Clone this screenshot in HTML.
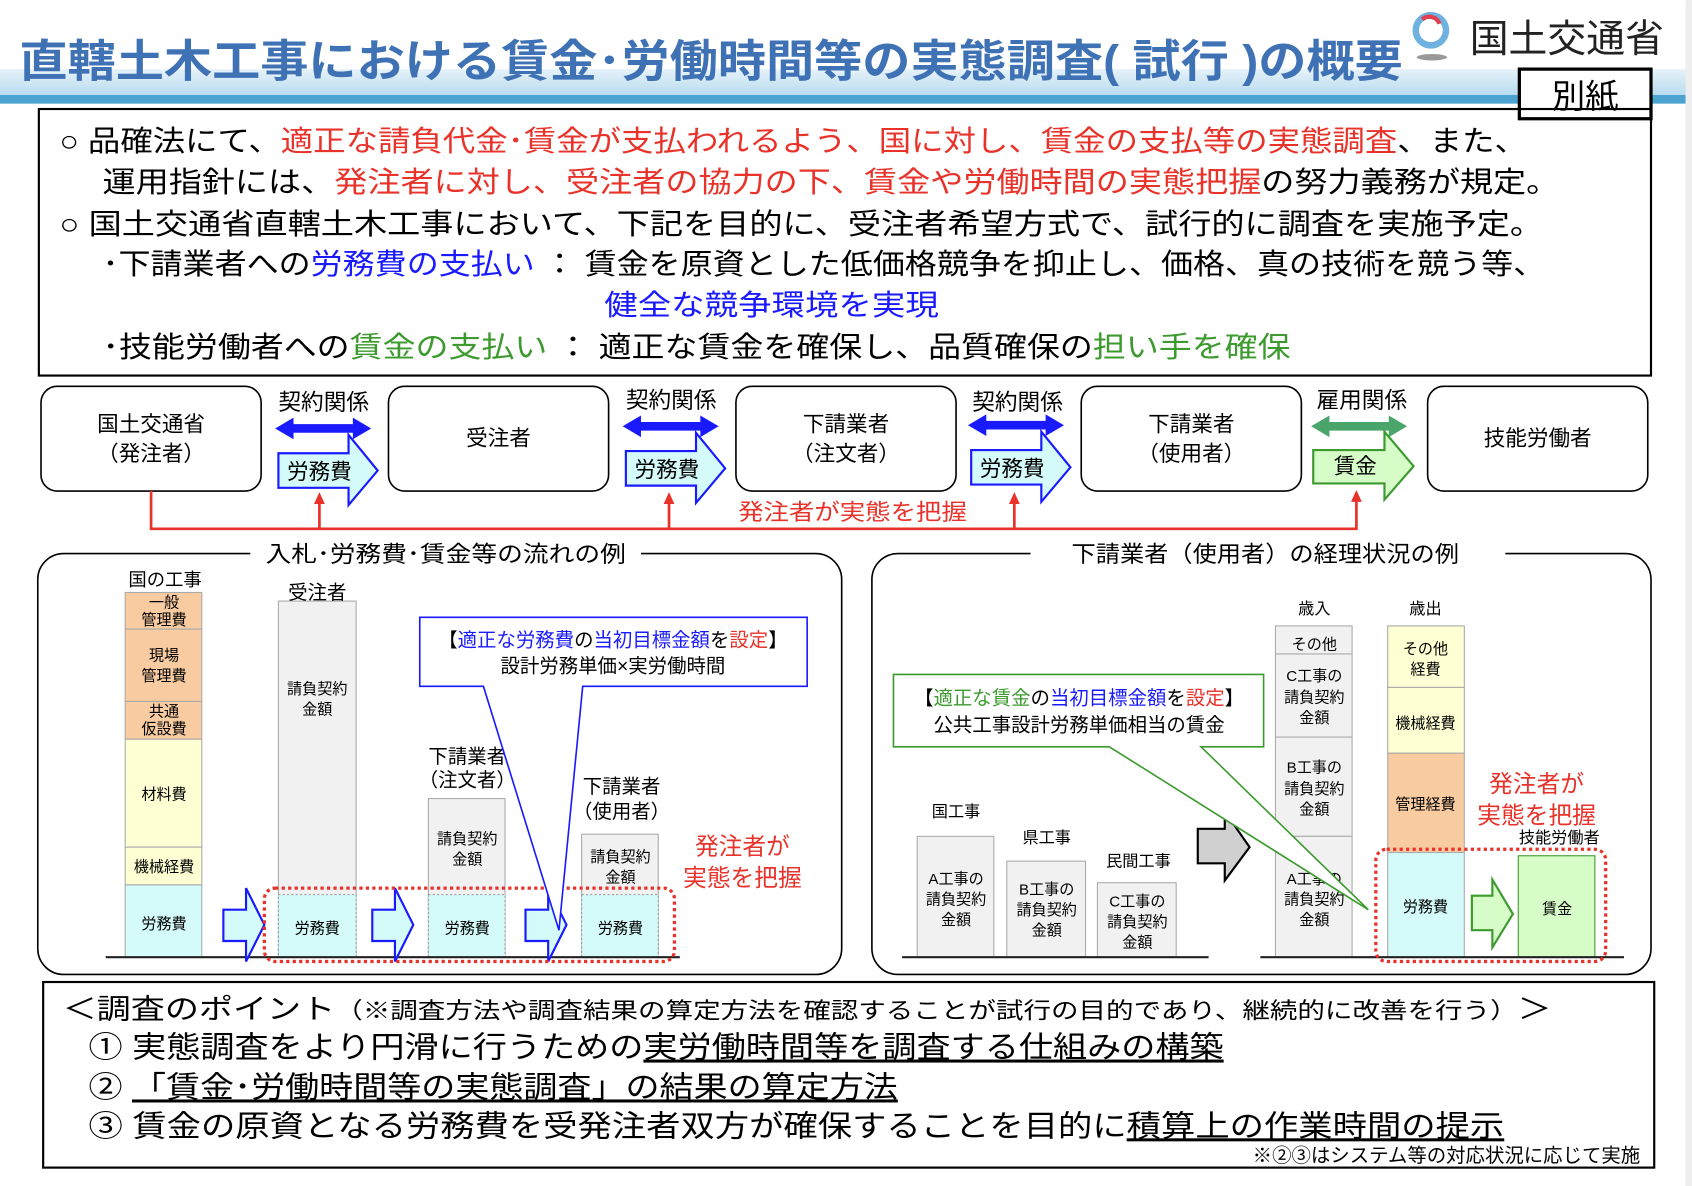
<!DOCTYPE html>
<html><head><meta charset="utf-8"><style>
html,body{margin:0;padding:0;background:#fff}
svg{display:block}
text{font-family:"Liberation Sans","Noto Sans CJK JP",sans-serif}
</style></head><body>
<svg width="1692" height="1186" viewBox="0 0 1568 1099" xmlns="http://www.w3.org/2000/svg">
<defs>
<linearGradient id="band" x1="0" y1="0" x2="0" y2="1"><stop offset="0" stop-color="#e6f2fa"/><stop offset="1" stop-color="#b9dcef"/></linearGradient>
</defs>
<rect x="0" y="0" width="1568" height="1099" fill="#fff"/>
<rect x="1562" y="0" width="6" height="1099" fill="#eeeeee"/>
<!-- title band -->
<rect x="0" y="64" width="1562" height="24" fill="url(#band)"/>
<rect x="0" y="88" width="1562" height="8" fill="#4ca3d2"/>
<text x="18" y="71" font-size="41" font-weight="bold" fill="#3f72b5" textLength="1282" lengthAdjust="spacingAndGlyphs">直轄土木工事における賃金･労働時間等の実態調査( 試行 )の概要</text>
<!-- logo -->
<circle cx="1326" cy="28" r="14" fill="none" stroke="#6fb2e0" stroke-width="6"/>
<path d="M1318 18 a10 10 0 0 1 16 4" fill="none" stroke="#e04050" stroke-width="4"/>
<ellipse cx="1327" cy="53" rx="14" ry="3" fill="#999"/>
<text x="1362" y="48" font-size="36" fill="#222">国土交通省</text>
<rect x="1408" y="64" width="122" height="46" fill="#fff" stroke="#000" stroke-width="3"/>
<text x="1469" y="100" font-size="31" text-anchor="middle" fill="#000">別紙</text>
<!-- top box -->
<rect x="36" y="101" width="1494" height="247" fill="none" stroke="#000" stroke-width="2"/>
<g font-size="27" fill="#000" lengthAdjust="spacingAndGlyphs">
<text x="55" y="140" textLength="1360" lengthAdjust="spacingAndGlyphs">○ 品確法にて、<tspan fill="#e8322a">適正な請負代金･賃金が支払われるよう、国に対し、賃金の支払等の実態調査</tspan>、また、</text>
<text x="95" y="178" textLength="1350" lengthAdjust="spacingAndGlyphs">運用指針には、<tspan fill="#e8322a">発注者に対し、受注者の協力の下、賃金や労働時間の実態把握</tspan>の努力義務が規定。</text>
<text x="55" y="217" textLength="1375" lengthAdjust="spacingAndGlyphs">○ 国土交通省直轄土木工事において、下記を目的に、受注者希望方式で、試行的に調査を実施予定。</text>
<text x="95" y="254" textLength="1337" lengthAdjust="spacingAndGlyphs">･下請業者への<tspan fill="#1a1aff">労務費の支払い</tspan> ： 賃金を原資とした低価格競争を抑止し、価格、真の技術を競う等、</text>
<text x="560" y="292" fill="#1a1aff" textLength="310" lengthAdjust="spacingAndGlyphs">健全な競争環境を実現</text>
<text x="95" y="331" textLength="1101" lengthAdjust="spacingAndGlyphs">･技能労働者への<tspan fill="#3c9a2e">賃金の支払い</tspan> ： 適正な賃金を確保し、品質確保の<tspan fill="#3c9a2e">担い手を確保</tspan></text>
</g>
<!-- flow boxes -->
<g fill="#fff" stroke="#000" stroke-width="1.5">
<rect x="38" y="358" width="204" height="97" rx="15"/>
<rect x="360" y="358" width="204" height="97" rx="15"/>
<rect x="682" y="358" width="204" height="97" rx="15"/>
<rect x="1002" y="358" width="204" height="97" rx="15"/>
<rect x="1323" y="358" width="204" height="97" rx="15"/>
</g>
<g font-size="20" text-anchor="middle" fill="#000">
<text x="140" y="400">国土交通省</text><text x="140" y="427">（発注者）</text>
<text x="462" y="413">受注者</text>
<text x="784" y="400">下請業者</text><text x="784" y="427">（注文者）</text>
<text x="1104" y="400">下請業者</text><text x="1104" y="427">（使用者）</text>
<text x="1425" y="413">技能労働者</text>
</g>
<g font-size="21" text-anchor="middle" fill="#000">
<text x="300" y="380">契約関係</text><text x="622" y="378">契約関係</text><text x="943" y="380">契約関係</text><text x="1262" y="378">雇用関係</text>
</g>
<g id="dbl">
<path d="M255 397 L272 387 L272 393 L327 393 L327 387 L344 397 L327 407 L327 401 L272 401 L272 407 Z" fill="#1a1aff"/>
<path d="M258 420 L323 420 L323 403 L350 436 L323 468 L323 452 L258 452 Z" fill="#d4fafa" stroke="#1a1aff" stroke-width="2"/>
<text x="296" y="444" font-size="20" text-anchor="middle" fill="#000">労務費</text>
</g>
<use href="#dbl" x="322" y="-2"/>
<use href="#dbl" x="642" y="-3"/>
<path d="M1215 395 L1232 385 L1232 391 L1287 391 L1287 385 L1304 395 L1287 405 L1287 399 L1232 399 L1232 405 Z" fill="#4aa56a"/>
<path d="M1217 417 L1283 417 L1283 400 L1310 432 L1283 463 L1283 448 L1217 448 Z" fill="#d6fcc8" stroke="#3c9a2e" stroke-width="2"/>
<text x="1256" y="439" font-size="20" text-anchor="middle" fill="#000">賃金</text>
<!-- red line -->
<g stroke="#e8322a" stroke-width="2.5" fill="none">
<polyline points="140,455 140,490 1257,490 1257,462"/>
<line x1="296" y1="490" x2="296" y2="465"/><line x1="620" y1="490" x2="620" y2="465"/><line x1="940" y1="490" x2="940" y2="465"/>
</g>
<g fill="#e8322a">
<path d="M296 456 L291 467 L301 467Z"/><path d="M620 456 L615 467 L625 467Z"/><path d="M940 456 L935 467 L945 467Z"/><path d="M1257 454 L1252 465 L1262 465Z"/>
</g>
<rect x="680" y="463" width="222" height="24" fill="#fff"/>
<text x="684" y="482" font-size="21" fill="#e8322a" textLength="212" lengthAdjust="spacingAndGlyphs">発注者が実態を把握</text>
<!-- panels -->
<rect x="35" y="513" width="745" height="390" rx="24" fill="none" stroke="#000" stroke-width="1.5"/>
<rect x="808" y="513" width="722" height="390" rx="24" fill="none" stroke="#000" stroke-width="1.5"/>
<rect x="232" y="500" width="362" height="26" fill="#fff"/>
<rect x="955" y="500" width="440" height="26" fill="#fff"/>
<text x="246" y="521" font-size="21" textLength="334" lengthAdjust="spacingAndGlyphs">入札･労務費･賃金等の流れの例</text>
<text x="993" y="521" font-size="21" textLength="359" lengthAdjust="spacingAndGlyphs">下請業者（使用者）の経理状況の例</text>
<!-- left panel columns -->
<text x="153" y="543" font-size="17" text-anchor="middle">国の工事</text>
<g stroke="#aaa" stroke-width="1">
<rect x="116" y="549" width="71" height="34" fill="#f8cba0"/>
<rect x="116" y="583" width="71" height="67" fill="#f8cba0"/>
<rect x="116" y="650" width="71" height="35" fill="#f8cba0"/>
<rect x="116" y="685" width="71" height="100" fill="#ffffd4"/>
<rect x="116" y="785" width="71" height="35" fill="#ffffd4"/>
<rect x="116" y="820" width="71" height="67" fill="#d4fafa"/>
<rect x="258" y="557" width="72" height="330" fill="#f1f1f1"/>
<rect x="397" y="740" width="71" height="147" fill="#f1f1f1"/>
<rect x="539" y="773" width="71" height="114" fill="#f1f1f1"/>
</g>
<g fill="#d4fafa" stroke="#999" stroke-dasharray="2,2">
<rect x="258" y="829" width="72" height="58"/><rect x="397" y="829" width="71" height="58"/><rect x="539" y="829" width="71" height="58"/>
</g>
<g font-size="14" text-anchor="middle" fill="#000">
<text x="152" y="563">一般</text><text x="152" y="579">管理費</text>
<text x="152" y="612">現場</text><text x="152" y="631">管理費</text>
<text x="152" y="664">共通</text><text x="152" y="680">仮設費</text>
<text x="152" y="741">材料費</text>
<text x="152" y="808">機械経費</text>
<text x="152" y="861">労務費</text>
<text x="294" y="643">請負契約</text><text x="294" y="662">金額</text>
<text x="294" y="865">労務費</text><text x="433" y="865">労務費</text><text x="575" y="865">労務費</text>
<text x="433" y="782">請負契約</text><text x="433" y="801">金額</text>
<text x="575" y="799">請負契約</text><text x="575" y="818">金額</text>
</g>
<text x="294" y="555" font-size="18" text-anchor="middle">受注者</text>
<g font-size="18" text-anchor="middle">
<text x="433" y="707">下請業者</text><text x="433" y="729">（注文者）</text>
<text x="576" y="735">下請業者</text><text x="576" y="758">（使用者）</text>
</g>
<line x1="98" y1="887" x2="630" y2="887" stroke="#222" stroke-width="2"/>
<g fill="#d4fafa" stroke="#1a1aff" stroke-width="2">
<path d="M207 843 L228 843 L228 823 L245 857 L228 891 L228 872 L207 872Z"/>
<path d="M345 843 L366 843 L366 823 L383 857 L366 891 L366 872 L345 872Z"/>
<path d="M487 843 L508 843 L508 823 L525 857 L508 891 L508 872 L487 872Z"/>
</g>
<rect x="245" y="823" width="380" height="68" rx="10" fill="none" stroke="#e8322a" stroke-width="3" stroke-dasharray="3,3"/>
<g font-size="22" text-anchor="middle" fill="#e8322a"><text x="688" y="792">発注者が</text><text x="688" y="821">実態を把握</text></g>
<!-- blue callout -->
<path d="M448 636 L389 636 L389 572 L748 572 L748 636 L540 636 L518 862 L448 636Z" fill="#fff" stroke="#1a1aff" stroke-width="1.5"/>
<text x="568" y="599" font-size="18" text-anchor="middle">【<tspan fill="#1a1aff">適正な労務費</tspan>の<tspan fill="#1a1aff">当初目標金額</tspan>を<tspan fill="#e8322a">設定</tspan>】</text>
<text x="568" y="623" font-size="18" text-anchor="middle">設計労務単価×実労働時間</text>
<!-- right panel -->
<g stroke="#aaa" stroke-width="1" fill="#f1f1f1">
<rect x="850" y="775" width="71" height="112"/><rect x="933" y="798" width="73" height="89"/><rect x="1017" y="818" width="73" height="69"/>
<rect x="1182" y="580" width="71" height="26"/><rect x="1182" y="606" width="71" height="77"/><rect x="1182" y="683" width="71" height="92"/><rect x="1182" y="775" width="71" height="112"/>
<rect x="1286" y="580" width="71" height="57" fill="#ffffd4"/><rect x="1286" y="637" width="71" height="61" fill="#ffffd4"/><rect x="1286" y="698" width="71" height="92" fill="#f8cba0"/><rect x="1286" y="790" width="71" height="97" fill="#d4fafa"/>
<rect x="1407" y="793" width="71" height="94" fill="#d6fcc8" stroke="#3c9a2e"/>
</g>
<g font-size="15" text-anchor="middle" fill="#000">
<text x="886" y="757">国工事</text><text x="970" y="781">県工事</text><text x="1055" y="803">民間工事</text>
<text x="1218" y="569">歳入</text><text x="1321" y="569">歳出</text>
</g>
<g font-size="14" text-anchor="middle" fill="#000">
<text x="886" y="819">A工事の</text><text x="886" y="838">請負契約</text><text x="886" y="857">金額</text>
<text x="970" y="829">B工事の</text><text x="970" y="848">請負契約</text><text x="970" y="867">金額</text>
<text x="1054" y="840">C工事の</text><text x="1054" y="859">請負契約</text><text x="1054" y="878">金額</text>
<text x="1218" y="602">その他</text>
<text x="1218" y="631">C工事の</text><text x="1218" y="651">請負契約</text><text x="1218" y="670">金額</text>
<text x="1218" y="716">B工事の</text><text x="1218" y="736">請負契約</text><text x="1218" y="755">金額</text>
<text x="1218" y="819">A工事の</text><text x="1218" y="838">請負契約</text><text x="1218" y="857">金額</text>
<text x="1321" y="606">その他</text><text x="1321" y="625">経費</text>
<text x="1321" y="675">機械経費</text>
<text x="1321" y="750">管理経費</text>
<text x="1321" y="845">労務費</text>
<text x="1443" y="847">賃金</text>
</g>
<path d="M1110 768 L1135 768 L1135 752 L1158 785 L1135 816 L1135 800 L1110 800Z" fill="#d0d0d0" stroke="#000" stroke-width="2"/>
<g stroke="#222" stroke-width="2"><line x1="836" y1="887" x2="1120" y2="887"/><line x1="1168" y1="887" x2="1505" y2="887"/></g>
<path d="M1364 830 L1383 830 L1383 815 L1402 847 L1383 878 L1383 862 L1364 862Z" fill="#d6fcc8" stroke="#3c9a2e" stroke-width="2"/>
<rect x="1275" y="787" width="213" height="104" rx="10" fill="none" stroke="#e8322a" stroke-width="3" stroke-dasharray="3,3"/>
<g font-size="22" text-anchor="middle" fill="#e8322a"><text x="1424" y="734">発注者が</text><text x="1424" y="763">実態を把握</text></g>
<text x="1445" y="781" font-size="15" text-anchor="middle">技能労働者</text>
<!-- green callout -->
<path d="M1028 692 L828 692 L828 625 L1171 625 L1171 692 L1113 692 L1268 843 L1028 692Z" fill="#fff" stroke="#3c9a2e" stroke-width="1.5"/>
<text x="1000" y="653" font-size="18" text-anchor="middle">【<tspan fill="#3c9a2e">適正な賃金</tspan>の<tspan fill="#1a1aff">当初目標金額</tspan>を<tspan fill="#e8322a">設定</tspan>】</text>
<text x="1000" y="678" font-size="18" text-anchor="middle">公共工事設計労務単価相当の賃金</text>
<!-- bottom box -->
<rect x="40" y="910" width="1493" height="172" fill="none" stroke="#000" stroke-width="2"/>
<text x="58" y="944" font-size="26" textLength="1380" lengthAdjust="spacingAndGlyphs">＜調査のポイント<tspan font-size="21">（※調査方法や調査結果の算定方法を確認することが試行の目的であり、継続的に改善を行う）</tspan>＞</text>
<g font-size="28">
<text x="82" y="980" textLength="1052" lengthAdjust="spacingAndGlyphs">① 実態調査をより円滑に行うための<tspan text-decoration="underline">実労働時間等を調査する仕組みの構築</tspan></text>
<text x="82" y="1017" textLength="750" lengthAdjust="spacingAndGlyphs">② <tspan text-decoration="underline">「賃金･労働時間等の実態調査」の結果の算定方法</tspan></text>
<text x="82" y="1053" textLength="1312" lengthAdjust="spacingAndGlyphs">③ 賃金の原資となる労務費を受発注者双方が確保することを目的に<tspan text-decoration="underline">積算上の作業時間の提示</tspan></text>
</g>
<text x="1520" y="1077" font-size="18" text-anchor="end">※②③はシステム等の対応状況に応じて実施</text>
</svg>
</body></html>
